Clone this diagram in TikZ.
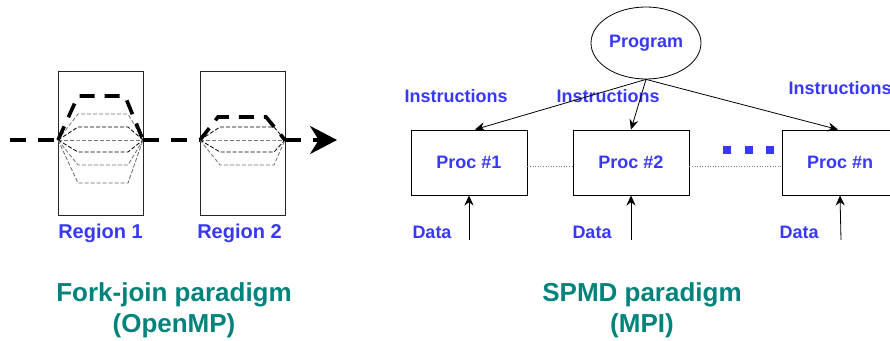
\documentclass[tikz,border=0pt]{standalone}
\usepackage{fontspec}
\setmainfont{Liberation Sans}
\usetikzlibrary{arrows.meta,positioning,shapes.geometric}
\definecolor{labelblue}{HTML}{3838F8}
\definecolor{titleteal}{HTML}{00837A}

\begin{document}
\begin{tikzpicture}[x=1pt,y=-1pt, every node/.style={font=\bfseries\fontsize{18}{20}\selectfont},
 region/.style={draw=black!85,line width=0.9pt,minimum width=85pt,minimum height=144pt,inner sep=0pt},
 proc/.style={draw,line width=0.9pt,minimum width=116pt,minimum height=65pt,text=labelblue},
 lbl/.style={text=labelblue},
 thread/.style={dash pattern=on 4pt off 2pt,line width=0.8pt},
 master/.style={line width=3.6pt,dash pattern=on 16pt off 12pt},
 arr/.style={-{Stealth[length=10pt,width=9pt]},line width=0.8pt},
 linkdot/.style={draw=gray,dotted,line width=0.6pt},
 title/.style={text=titleteal,align=center,font=\bfseries\fontsize{26}{31}\selectfont}]
\useasboundingbox (0,0) rectangle (890,340);
\clip (0,0) rectangle (890,340);
% fork-join side
\node[region] (reg1) at (100.5,143) {};
\node[region] (reg2) at (242.5,143) {};
\coordinate (start) at (10,140); \coordinate (tip) at (337,140);
\coordinate (fork1) at (58,140); \coordinate (join1) at (143,140);
\coordinate (fork2) at (200,140); \coordinate (join2) at (285,140);
\foreach \y/\c in {114/black!55,127/black,140/black!55,152/black,165/black!55,183/black!60}
  \draw[thread,\c] (fork1) -- (78,\y) -- (128,\y) -- (join1);
\foreach \y/\c in {127/black,140/black!55,152/black,165/black!55}
  \draw[thread,\c] (fork2) -- (220,\y) -- (274,\y) -- (join2);
\draw[master,dash pattern=on 15pt off 10pt] (fork1) -- (78,96) -- (125,96) -- (join1);
\draw[master,dash pattern=on 15pt off 10pt] (fork2) -- (218,117) -- (266,117) -- (join2);
\draw[master] (start) -- (fork1);
\draw[master] (join1) -- (fork2);
\draw[master,-{Stealth[length=27pt,width=28pt]}] (join2) -- (tip);
\node[lbl,font=\bfseries\fontsize{20}{22}\selectfont,below=5pt of reg1] (lab1) {Region 1};
\node[lbl,font=\bfseries\fontsize{20}{22}\selectfont,below=5pt of reg2,xshift=-3pt] (lab2) {Region 2};
% SPMD side
\node[draw,ellipse,line width=0.8pt,minimum width=110pt,minimum height=72pt,inner sep=0pt,lbl] (prog) at (646,43) {Program};
\node[proc] (proc1) at (469,162.5) {Proc \#1};
\node[proc] (proc2) at (631,162.5) {Proc \#2};
\node[proc] (procn) at (840,162.5) {Proc \#n};
\draw[linkdot] ([yshift=-4pt]proc1.east) -- ([yshift=-4pt]proc2.west);
\draw[linkdot] ([yshift=-4pt]proc2.east) -- ([yshift=-4pt]procn.west);
\foreach \x in {727,749,770}
  \fill[labelblue] (\x-4,146) rectangle (\x+4,154);
\node[lbl] (ins1) at (456,96) {Instructions};
\node[lbl] (ins2) at (608,96) {Instructions};
\node[lbl] (insn) at (840,88) {Instructions};
\draw[arr] (prog.south) -- ([xshift=6pt]proc1.north);
\draw[arr] (prog.south) -- (proc2.north);
\draw[arr] (prog.south) -- ([xshift=-2pt]procn.north);
\coordinate (in1) at (469,240); \coordinate (in2) at (631,240); \coordinate (inn) at (841,240);
\draw[arr] (in1) -- (proc1.south);
\draw[arr] (in2) -- (proc2.south);
\draw[arr] (inn) -- (procn.south);
\node[lbl] (dat1) at (432,232) {Data};
\node[lbl] (dat2) at (592,232) {Data};
\node[lbl] (datn) at (799,232) {Data};
% captions
\node[title] (fj) at (174,310) {Fork-join paradigm\\(OpenMP)};
\node[title] (spmd) at (642,310) {SPMD paradigm\\(MPI)};
\end{tikzpicture}
\end{document}
